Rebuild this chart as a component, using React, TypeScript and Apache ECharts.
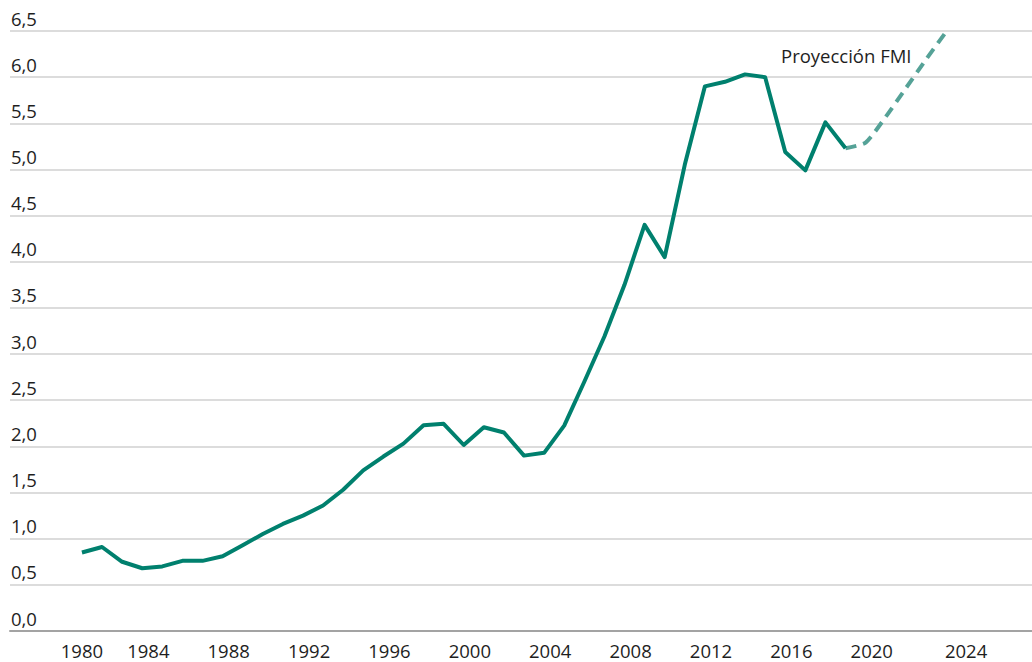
import React, { useEffect, useRef } from "react";
import * as echarts from "echarts";

const histYears = [
  1980, 1981, 1982, 1983, 1984, 1985, 1986, 1987, 1988, 1989,
  1990, 1991, 1992, 1993, 1994, 1995, 1996, 1997, 1998, 1999,
  2000, 2001, 2002, 2003, 2004, 2005, 2006, 2007, 2008, 2009,
  2010, 2011, 2012, 2013, 2014, 2015, 2016, 2017, 2018,
];
const histValues = [
  0.85, 0.91, 0.75, 0.68, 0.7, 0.76, 0.76, 0.81, 0.93, 1.05,
  1.16, 1.25, 1.36, 1.53, 1.74, 1.89, 2.03, 2.23, 2.245, 2.015,
  2.207, 2.15, 1.9, 1.93, 2.225, 2.7, 3.19, 3.75, 4.4, 4.05,
  5.05, 5.9, 5.95, 6.03, 6.0, 5.19, 4.99, 5.51, 5.23,
];
const projYears = [2018, 2019, 2020, 2021, 2022, 2023];
const projValues = [5.23, 5.29, 5.57, 5.88, 6.19, 6.49];
const xTickYears = [1980, 1984, 1988, 1992, 1996, 2000, 2004, 2008, 2012, 2016, 2020, 2024];
const projectionLabel = "Proyección FMI";

const FONT = "'Open Sans', 'Noto Sans', sans-serif";
const TEXT = "#1e1e1e";
const FS = 18.5;

export default function App() {
  const ref = useRef<HTMLDivElement>(null);
  useEffect(() => {
    if (!ref.current) return;
    const chart = echarts.init(ref.current, null, { renderer: "svg" });
    const edgeYears = [xTickYears[0], xTickYears[xTickYears.length - 1]];
    chart.setOption({
      animation: false,
      textStyle: { fontFamily: FONT },
      grid: { left: 10, right: 0, top: 31, bottom: 31, containLabel: false },
      xAxis: {
        type: "value",
        min: 1976.42,
        max: 2027.28,
        axisLine: { show: true, lineStyle: { color: "#a3a3a3", width: 2 } },
        axisTick: { show: false },
        splitLine: { show: false },
        axisLabel: {
          customValues: xTickYears,
          margin: 12,
          fontSize: FS,
          lineHeight: 14,
          color: TEXT,
          fontFamily: FONT,
          formatter: (v: number) =>
            edgeYears.includes(Math.round(v)) ? `{e|${Math.round(v)}}` : `{m|${Math.round(v)}}`,
          rich: {
            e: { fontSize: FS, lineHeight: 14, color: TEXT, fontFamily: FONT },
            m: { fontSize: FS, lineHeight: 14, color: TEXT, fontFamily: FONT, padding: [0, 28, 0, 0] },
          },
        },
      },
      yAxis: {
        type: "value",
        min: 0,
        max: 6.5,
        interval: 0.5,
        axisLine: { show: false },
        axisTick: { show: false },
        splitLine: { show: true, lineStyle: { color: "#d0d0d0", width: 1.5 } },
        axisLabel: {
          inside: true,
          margin: 1,
          fontSize: FS,
          lineHeight: 14,
          color: TEXT,
          fontFamily: FONT,
          verticalAlign: "bottom",
          padding: [0, 0, 6, 0],
          formatter: (v: number) => v.toFixed(1).replace(".", ","),
        },
      },
      series: [
        {
          type: "line",
          name: "Histórico",
          data: histYears.map((y, i) => [y, histValues[i]]),
          symbol: "none",
          lineStyle: { color: "#00806e", width: 4, join: "round" },
          z: 3,
        },
        {
          type: "line",
          name: projectionLabel,
          data: projYears.map((y, i) => [y, projValues[i]]),
          symbol: "none",
          smooth: 0.2,
          lineStyle: { color: "#55a297", width: 4, type: [11, 7], cap: "butt" },
          z: 2,
        },
      ],
      graphic: [
        {
          type: "text",
          left: 781,
          top: 46,
          style: { text: projectionLabel, fontSize: FS, fill: TEXT, fontFamily: FONT },
        },
      ],
    });
    return () => chart.dispose();
  }, []);
  return (
    <div
      ref={ref}
      style={{ position: "absolute", left: 0, top: 0, width: 1032, height: 662, background: "#fff" }}
    />
  );
}
